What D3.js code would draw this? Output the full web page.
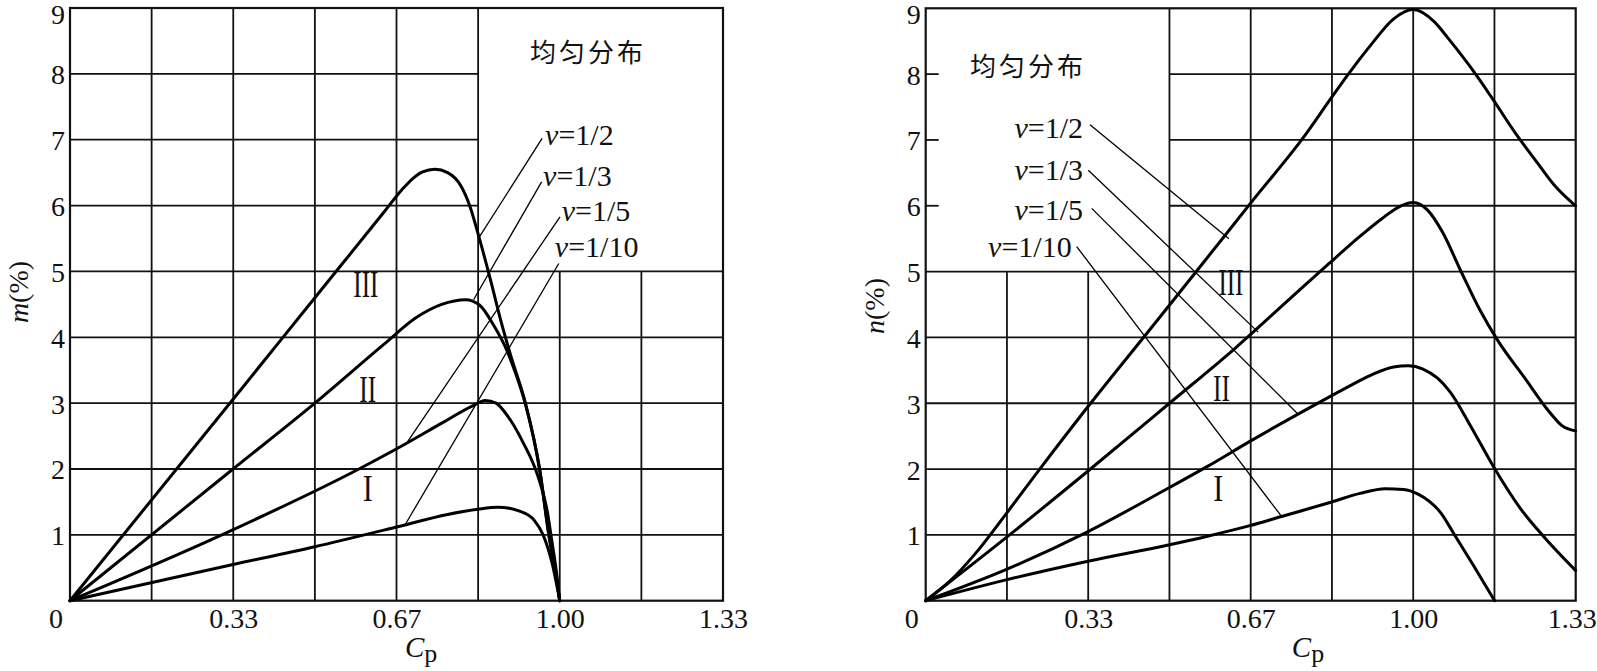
<!DOCTYPE html>
<html><head><meta charset="utf-8">
<script src="https://cdn.jsdelivr.net/npm/d3@7/dist/d3.min.js"></script>
<style>
html,body{margin:0;padding:0;background:#fff;}
svg{display:block;}
</style></head><body>
<svg id="chart" width="1597" height="671"></svg>
<script>
// ================= DATA =================
const xTickValues = [1/3, 2/3, 1, 4/3];
const xTickLabels = ["0.33", "0.67", "1.00", "1.33"];
const yTickValues = [1, 2, 3, 4, 5, 6, 7, 8, 9];
const yTickLabels = ["1", "2", "3", "4", "5", "6", "7", "8", "9"];
const nuLabels = ["1/2", "1/3", "1/5", "1/10"];
const romanLabels = ["III", "II", "I"];
const titleText = "均匀分布";

// Left panel: m(%) vs Cp
const mCp_half  = [0, 0.333, 0.5, 0.64, 0.679, 0.70, 0.72, 0.745, 0.771, 0.798, 0.817, 0.837, 0.859, 0.878, 0.9, 0.93, 0.959, 0.978, 0.99, 1.0];
const m_half    = [0, 3.06, 4.6, 5.89, 6.25, 6.41, 6.51, 6.55, 6.5, 6.3, 5.98, 5.47, 4.86, 4.3, 3.72, 3.0, 2.0, 1.0, 0.5, 0];
const mCp_third = [0, 0.333, 0.5, 0.642, 0.707, 0.759, 0.808, 0.836, 0.866, 0.892, 0.91, 0.93, 0.959, 0.978, 0.99, 1.0];
const m_third   = [0, 2.0, 3.0, 3.9, 4.3, 4.5, 4.57, 4.49, 4.17, 3.8, 3.45, 2.98, 1.98, 0.98, 0.48, 0];
const mCp_fifth = [0, 0.31, 0.59, 0.68, 0.76, 0.82, 0.848, 0.87, 0.889, 0.926, 0.955, 0.974, 0.983, 0.993, 1.0];
const m_fifth   = [0, 1.0, 2.0, 2.36, 2.7, 2.95, 3.04, 3.0, 2.85, 2.39, 1.9, 1.38, 0.95, 0.45, 0];
const mCp_tenth = [0, 0.333, 0.5, 0.667, 0.771, 0.833, 0.874, 0.918, 0.948, 0.966, 0.985, 1.0];
const m_tenth   = [0, 0.55, 0.82, 1.12, 1.31, 1.39, 1.42, 1.36, 1.22, 1.0, 0.55, 0];

// Right panel: n(%) vs Cp
const nCp_half  = [0, 0.05, 0.1, 0.165, 0.232, 0.333, 0.474, 0.571, 0.673, 0.776, 0.833, 0.867, 0.915, 0.96, 1.0, 1.044, 1.071, 1.128, 1.165, 1.21, 1.254, 1.291, 1.333];
const n_half    = [0, 0.3, 0.7, 1.32, 1.98, 2.95, 4.25, 5.15, 6.1, 7.05, 7.65, 8.0, 8.46, 8.84, 8.98, 8.79, 8.55, 8.0, 7.6, 7.1, 6.66, 6.3, 6.0];
const nCp_third = [0, 0.172, 0.333, 0.5, 0.637, 0.749, 0.827, 0.893, 0.935, 0.975, 1.0, 1.03, 1.06, 1.097, 1.138, 1.172, 1.229, 1.279, 1.305, 1.333];
const n_third   = [0, 1.0, 1.97, 3.0, 3.85, 4.6, 5.12, 5.55, 5.8, 6.0, 6.05, 5.93, 5.6, 5.02, 4.4, 3.97, 3.38, 2.87, 2.66, 2.58];
const nCp_fifth = [0, 0.167, 0.333, 0.5, 0.578, 0.665, 0.76, 0.814, 0.874, 0.92, 0.96, 0.99, 1.02, 1.05, 1.076, 1.118, 1.166, 1.222, 1.267, 1.333];
const n_fifth   = [0, 0.48, 1.05, 1.72, 2.04, 2.42, 2.82, 3.04, 3.28, 3.45, 3.55, 3.57, 3.52, 3.38, 3.17, 2.65, 2.02, 1.38, 0.98, 0.46];
const nCp_tenth = [0, 0.167, 0.333, 0.5, 0.578, 0.665, 0.73, 0.833, 0.891, 0.943, 0.98, 1.01, 1.057, 1.084, 1.124, 1.167];
const n_tenth   = [0, 0.32, 0.6, 0.85, 0.98, 1.14, 1.28, 1.5, 1.63, 1.7, 1.69, 1.62, 1.33, 1.01, 0.53, 0];

// ================= LAYOUT / ANNOTATIONS (data units) =================
const SERIF = "'Liberation Serif','Times New Roman',Times,serif";
const CJK = "'Noto Sans CJK SC','Noto Sans CJK TC',sans-serif";

const panels = [
  {
    yName: "m", left: 70, right: 723, top: 8, bottom: 600.7,
    series: [[mCp_half, m_half], [mCp_third, m_third], [mCp_fifth, m_fifth], [mCp_tenth, m_tenth]],
    hGridShort: {values: [6, 7, 8], from: 0, to: 5/6},
    vGridShort: {values: [1, 7/6], from: 0, to: 5},
    ticksInner: [],
    title: {cp: 0.939, v: 8.18},
    nu: [
      {label: [0.970, 6.92], from: [0.964, 7.02], to: [0.833, 5.49]},
      {label: [0.966, 6.30], from: [0.963, 6.36], to: [0.824, 4.57]},
      {label: [1.004, 5.77], from: [1.0005, 5.83], to: [0.688, 2.40]},
      {label: [0.990, 5.22], from: [0.998, 5.12], to: [0.684, 1.15]}
    ],
    nuAnchor: "start",
    roman: [[0.604, 4.80, 25], [0.608, 3.21, 17], [0.608, 1.70, 10]],
    cpLabelAt: 0.684,
    lastTickDx: 0,
    yLabelX: 28, yLabelY: 292
  },
  {
    yName: "n", left: 925.7, right: 1575.7, top: 8.3, bottom: 600.7,
    series: [[nCp_half, n_half], [nCp_third, n_third], [nCp_fifth, n_fifth], [nCp_tenth, n_tenth]],
    hGridShort: {values: [6, 7, 8], from: 0.5, to: 4/3},
    vGridShort: {values: [1/6, 1/3], from: 0, to: 5},
    ticksInner: [6, 7, 8],
    title: {cp: 0.0909, v: 7.97},
    nu: [
      {label: [0.3227, 7.03], from: [0.337, 7.23], to: [0.622, 5.5]},
      {label: [0.3227, 6.39], from: [0.3335, 6.54], to: [0.682, 4.08]},
      {label: [0.3227, 5.78], from: [0.3405, 5.96], to: [0.763, 2.84]},
      {label: [0.2995, 5.22], from: [0.3097, 5.38], to: [0.73, 1.28]}
    ],
    nuAnchor: "end",
    roman: [[0.626, 4.83, 25], [0.607, 3.22, 17], [0.600, 1.70, 10]],
    cpLabelAt: 0.751,
    lastTickDx: -4,
    yLabelX: 884, yLabelY: 306
  }
];

const svg = d3.select("#chart");

panels.forEach(p => {
  const x = d3.scaleLinear().domain([0, 4/3]).range([p.left, p.right]);
  const y = d3.scaleLinear().domain([0, 9]).range([p.bottom, p.top]);
  const g = svg.append("g");

  const gridG = g.append("g").attr("stroke", "#111").attr("stroke-width", 1.8).attr("fill", "none");
  yTickValues.filter(v => v < 9).forEach(v => {
    let a = 0, b = 4/3;
    if (p.hGridShort.values.includes(v)) { a = p.hGridShort.from; b = p.hGridShort.to; }
    gridG.append("line").attr("x1", x(a)).attr("x2", x(b)).attr("y1", y(v)).attr("y2", y(v));
  });
  d3.range(1, 8).map(k => k / 6).forEach(c => {
    let a = 0, b = 9;
    if (p.vGridShort.values.some(s => Math.abs(s - c) < 1e-6)) { a = p.vGridShort.from; b = p.vGridShort.to; }
    gridG.append("line").attr("x1", x(c)).attr("x2", x(c)).attr("y1", y(a)).attr("y2", y(b));
  });
  p.ticksInner.forEach(v => {
    gridG.append("line").attr("x1", x(0)).attr("x2", x(0) + 13).attr("y1", y(v)).attr("y2", y(v));
  });
  gridG.append("rect").attr("x", x(0)).attr("y", y(9))
    .attr("width", x(4/3) - x(0)).attr("height", y(0) - y(9)).attr("stroke-width", 2.2);

  // axes (labels only)
  const xAxis = d3.axisBottom(x).tickValues(xTickValues)
    .tickFormat((d, i) => xTickLabels[i]).tickSize(0).tickPadding(10);
  const xa = g.append("g").attr("transform", `translate(0,${p.bottom})`).call(xAxis);
  xa.select(".domain").remove();
  xa.selectAll("text").attr("font-family", SERIF).attr("font-size", 28).attr("fill", "#111")
    .attr("dy", "0").attr("y", 27)
    .attr("dx", (d, i) => i === xTickValues.length - 1 ? p.lastTickDx : 0);

  const yAxis = d3.axisLeft(y).tickValues(yTickValues)
    .tickFormat((d, i) => yTickLabels[i]).tickSize(0).tickPadding(5);
  const ya = g.append("g").attr("transform", `translate(${p.left},0)`).call(yAxis);
  ya.select(".domain").remove();
  ya.selectAll("text").attr("font-family", SERIF).attr("font-size", 28).attr("fill", "#111")
    .attr("dy", d => d === 9 ? "15" : "10");

  g.append("text").attr("x", x(0) - 7).attr("y", p.bottom + 27).attr("text-anchor", "end")
    .attr("font-family", SERIF).attr("font-size", 28).attr("fill", "#111").text("0");

  // axis titles
  const cp = g.append("text").attr("x", x(p.cpLabelAt)).attr("y", p.bottom + 56)
    .attr("font-family", SERIF).attr("font-size", 29).attr("fill", "#111");
  cp.append("tspan").attr("font-style", "italic").text("C");
  cp.append("tspan").attr("font-size", 26).attr("dy", 5).text("p");

  const yl = g.append("text").attr("transform", `translate(${p.yLabelX},${p.yLabelY}) rotate(-90)`)
    .attr("text-anchor", "middle").attr("font-family", SERIF).attr("font-size", 28).attr("fill", "#111");
  yl.append("tspan").attr("font-style", "italic").text(p.yName);
  yl.append("tspan").text("(%)");

  // curves
  const line = d3.line().x(d => x(d[0])).y(d => y(d[1])).curve(d3.curveMonotoneX);
  p.series.forEach(([cs, vs]) => {
    g.append("path").datum(cs.map((c, i) => [c, vs[i]]))
      .attr("d", line).attr("fill", "none").attr("stroke", "#000")
      .attr("stroke-width", 3).attr("stroke-linejoin", "round").attr("stroke-linecap", "round");
  });

  // leader lines + nu labels
  p.nu.forEach((a, i) => {
    g.append("line").attr("x1", x(a.from[0])).attr("y1", y(a.from[1]))
      .attr("x2", x(a.to[0])).attr("y2", y(a.to[1]))
      .attr("stroke", "#000").attr("stroke-width", 1.3);
    const t = g.append("text").attr("x", x(a.label[0])).attr("y", y(a.label[1]))
      .attr("text-anchor", p.nuAnchor).attr("font-family", SERIF).attr("font-size", 30)
      .attr("fill", "#111");
    t.append("tspan").attr("font-style", "italic").text("ν");
    t.append("tspan").text("=" + nuLabels[i]);
  });

  // roman numerals
  p.roman.forEach((r, i) => {
    g.append("text").attr("x", x(r[0])).attr("y", y(r[1]) + 12.5)
      .attr("text-anchor", "middle").attr("font-family", SERIF).attr("font-size", 37)
      .attr("textLength", r[2]).attr("lengthAdjust", "spacingAndGlyphs")
      .attr("fill", "#111").text(romanLabels[i]);
  });

  // title
  g.append("text").attr("x", x(p.title.cp)).attr("y", y(p.title.v))
    .attr("font-family", CJK).attr("font-size", 26)
    .attr("letter-spacing", 3).attr("fill", "#111").text(titleText);
});
</script>
</body></html>
